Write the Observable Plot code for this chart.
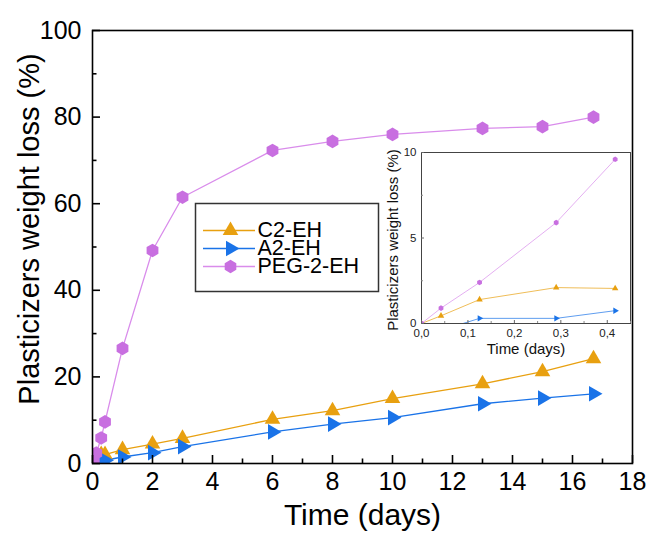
<!DOCTYPE html>
<html><head><meta charset="utf-8">
<script src="https://cdn.jsdelivr.net/npm/d3@7"></script>
<script src="https://cdn.jsdelivr.net/npm/@observablehq/plot@0.6"></script>
<style>
html,body{margin:0;padding:0;background:#fff;}
#wrap{position:relative;width:646px;height:534px;font-family:Arial,"Liberation Sans",sans-serif;}
#wrap > div{position:absolute;}
svg{overflow:visible;}
</style></head>
<body><div id="wrap"><div id="main" style="left:0;top:0"></div><div id="inset" style="left:370px;top:140px"></div><div id="legend" style="left:195px;top:203px"></div></div>
<script>
const series = ["C2-EH", "A2-EH", "PEG-2-EH"];
const colors = ["#E8A010", "#1A73E8", "#C86FE0"];
const lineColors = ["#E8A010", "#1A73E8", "#D98CEB"];
const symbols = ["triangle", "triangle", "hexagon"];
const rotations = [0, 90, 0];

const time = [0, 0.042, 0.125, 0.29, 0.417, 1, 2, 3, 6, 8, 10, 13, 15, 16.7];
const c2 = [0, 0.45, 1.4, 2.1, 2.05, 3.2, 4.5, 5.8, 10.2, 12.2, 15.0, 18.4, 21.2, 24.2];
const a2 = [0, -0.4, 0.3, 0.3, 0.75, 1.5, 2.5, 3.9, 7.3, 9.1, 10.6, 13.8, 15.1, 16.1];
const peg = [0, 0.9, 2.4, 5.9, 9.6, 26.6, 49.2, 61.5, 72.3, 74.4, 76.0, 77.4, 77.8, 80.0];

const xMajor = [0, 2, 4, 6, 8, 10, 12, 14, 16, 18];
const xMinor = [1, 3, 5, 7, 9, 11, 13, 15, 17];
const yMajor = [0, 20, 40, 60, 80, 100];
const yMinor = [10, 30, 50, 70, 90];
const insetXTicks = [0, 0.1, 0.2, 0.3, 0.4];
const insetXMinor = [0.05, 0.15, 0.25, 0.35, 0.45];
const insetYTicks = [0, 5, 10];
const insetYMinor = [2.5, 7.5];
const insetTimeMax = 0.45;

const values = [c2, a2, peg];
const data = [];
series.forEach((s, i) => time.forEach((t, j) => data.push({series: s, t, v: values[i][j], idx: i})));
const insetData = data.filter(d => d.t <= insetTimeMax);

function seriesMarks(d, lw, rs) {
  const marks = [];
  series.forEach((s, i) => {
    const sd = d.filter(e => e.series === s);
    marks.push(Plot.line(sd, {x: "t", y: "v", stroke: lineColors[i], strokeWidth: lw, clip: true}));
  });
  series.forEach((s, i) => {
    const sd = d.filter(e => e.series === s);
    marks.push(Plot.dot(sd, {x: "t", y: "v", fill: colors[i], stroke: "none", symbol: () => symbols[i], r: rs[i], rotate: rotations[i], clip: true}));
  });
  return marks;
}

const font = "Arial, 'Liberation Sans', sans-serif";

const main = Plot.plot({
  width: 646, height: 534,
  marginLeft: 92, marginRight: 14, marginTop: 30, marginBottom: 71,
  style: {fontFamily: font, color: "#000", background: "transparent"},
  x: {domain: [0, 18], label: null},
  y: {domain: [0, 100], label: null},
  marks: [
    ...seriesMarks(data, 1.3, [5.8, 5.8, 5.9]),
    Plot.frame({stroke: "#000", strokeWidth: 1.6}),
    Plot.axisX(xMajor, {tickSize: -8, text: null, strokeWidth: 1.6, label: null}),
    Plot.axisX(xMinor, {tickSize: -4.5, text: null, strokeWidth: 1.6, label: null}),
    Plot.axisX(xMajor, {tickSize: 0, tickPadding: 9, fontSize: 25, label: null}),
    Plot.axisY(yMajor, {tickSize: -8, text: null, strokeWidth: 1.6, label: null}),
    Plot.axisY(yMinor, {tickSize: -4.5, text: null, strokeWidth: 1.6, label: null}),
    Plot.axisY(yMajor, {tickSize: 0, tickPadding: 11, fontSize: 25, label: null}),
    Plot.text(["Time (days)"], {frameAnchor: "bottom", lineAnchor: "middle", textAnchor: "middle", dy: 52, fontSize: 30}),
    Plot.text(["Plasticizers weight loss (%)"], {frameAnchor: "left", textAnchor: "middle", lineAnchor: "middle", dx: -63, dy: -18, rotate: -90, fontSize: 29})
  ]
});
document.getElementById("main").appendChild(main);

const fmt = d => d.toFixed(1).replace(".", ",");
const inset = Plot.plot({
  width: 262, height: 222,
  marginLeft: 51, marginRight: 2, marginTop: 12, marginBottom: 39,
  style: {fontFamily: font, color: "#222", background: "transparent"},
  x: {domain: [0, insetTimeMax], label: null},
  y: {domain: [0, 10], label: null},
  marks: [
    ...seriesMarks(insetData, 0.7, [2.4, 2.4, 2.4]),
    Plot.frame({stroke: "#444", strokeWidth: 1}),
    Plot.axisX(insetXTicks, {tickSize: -3, text: null, stroke: "#666", label: null}),
    Plot.axisX(insetXMinor, {tickSize: -2, text: null, stroke: "#888", label: null}),
    Plot.axisY(insetYTicks, {tickSize: -3, text: null, stroke: "#666", label: null}),
    Plot.axisY(insetYMinor, {tickSize: -2, text: null, stroke: "#888", label: null}),
    Plot.axisX(insetXTicks, {tickSize: 0, tickPadding: 5, fontSize: 11.5, label: null, tickFormat: fmt}),
    Plot.axisY(insetYTicks, {tickSize: 0, tickPadding: 5, fontSize: 11.5, label: null}),
    Plot.text(["Time (days)"], {frameAnchor: "bottom", lineAnchor: "middle", textAnchor: "middle", dy: 26, fontSize: 15, fill: "#111"}),
    Plot.text(["Plasticizers weight loss (%)"], {frameAnchor: "left", textAnchor: "middle", lineAnchor: "middle", dx: -28, dy: 2, rotate: -90, fontSize: 15, fill: "#111"})
  ]
});
document.getElementById("inset").appendChild(inset);

const legendRows = series.map((s, i) => ({series: s, i}));
const legend = Plot.plot({
  width: 183, height: 88,
  margin: 0,
  style: {fontFamily: font, color: "#000", background: "#fff"},
  x: {domain: [0, 183], axis: null},
  y: {domain: series, range: [17, 73], axis: null, type: "point"},
  marks: [
    Plot.frame({stroke: "#333", strokeWidth: 1.5}),
    Plot.ruleY(legendRows, {y: "series", x1: 8, x2: 60, stroke: d => lineColors[d.i], strokeWidth: 1.3}),
    Plot.dot(legendRows, {x: 35, y: "series", fill: d => colors[d.i], symbol: d => symbols[d.i], rotate: d => rotations[d.i], r: 5.8}),
    Plot.text(legendRows, {x: 62, y: "series", text: "series", textAnchor: "start", fontSize: 21.5, fill: "#000"})
  ]
});
document.getElementById("legend").appendChild(legend);
</script></body></html>
